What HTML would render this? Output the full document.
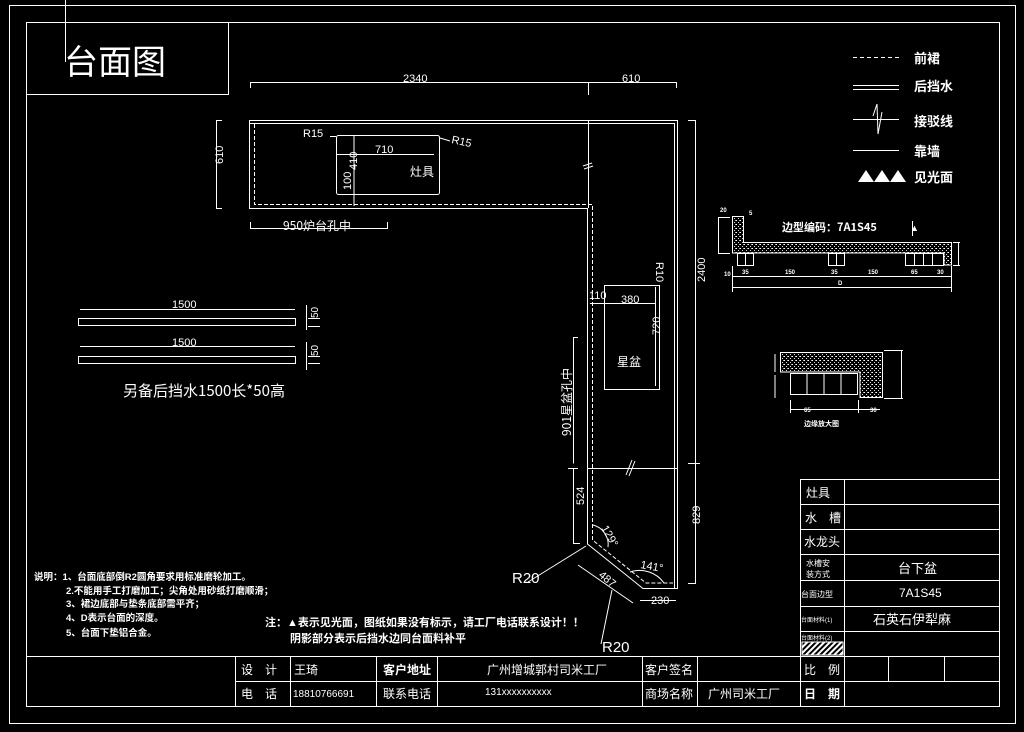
<!DOCTYPE html>
<html><head><meta charset="utf-8"><style>
html,body{margin:0;padding:0;background:#000;}
svg{display:block;}
text{fill:#fff;font-family:"Liberation Sans","Noto Sans CJK SC",sans-serif;}
.c{font-family:"Noto Sans CJK SC","WenQuanYi Zen Hei",sans-serif;}
.b{font-weight:bold;}
</style></head><body>
<svg width="1024" height="732" viewBox="0 0 1024 732" xmlns="http://www.w3.org/2000/svg">
<defs>
<pattern id="dots" width="4" height="4" patternUnits="userSpaceOnUse">
<rect width="4" height="4" fill="#000"/><rect x="0" y="0" width="1" height="1" fill="#fff"/><rect x="2" y="2" width="1" height="1" fill="#ddd"/><rect x="3" y="0" width="1" height="1" fill="#aaa"/>
</pattern>
<pattern id="hatch" width="4" height="4" patternUnits="userSpaceOnUse" patternTransform="rotate(45)">
<rect width="4" height="4" fill="#000"/><rect width="2" height="4" fill="#fff"/>
</pattern>
</defs>
<rect width="1024" height="732" fill="#000"/>
<g fill="none" stroke="#fff" stroke-width="1">
<rect x="9.5" y="5.5" width="1006" height="718"/>
<rect x="26.5" y="22.5" width="973" height="684"/>
<line x1="65.5" y1="0" x2="65.5" y2="62"/>
<rect x="26.5" y="22.5" width="202" height="72"/>
<line x1="26" y1="656.5" x2="999" y2="656.5"/>
<line x1="235" y1="681.5" x2="999" y2="681.5"/>
<line x1="235.5" y1="656" x2="235.5" y2="706"/>
<line x1="290.5" y1="656" x2="290.5" y2="706"/>
<line x1="376.5" y1="656" x2="376.5" y2="706"/>
<line x1="437.5" y1="656" x2="437.5" y2="706"/>
<line x1="642.5" y1="656" x2="642.5" y2="706"/>
<line x1="697.5" y1="656" x2="697.5" y2="706"/>
<line x1="800.5" y1="479" x2="800.5" y2="706"/>
<line x1="844.5" y1="479" x2="844.5" y2="706"/>
<line x1="888.5" y1="656" x2="888.5" y2="681"/>
<line x1="944.5" y1="656" x2="944.5" y2="681"/>
<line x1="800" y1="479.5" x2="999" y2="479.5"/>
<line x1="800" y1="504.5" x2="999" y2="504.5"/>
<line x1="800" y1="529.5" x2="999" y2="529.5"/>
<line x1="800" y1="554.5" x2="999" y2="554.5"/>
<line x1="800" y1="580.5" x2="999" y2="580.5"/>
<line x1="800" y1="606.5" x2="999" y2="606.5"/>
<line x1="800" y1="631.5" x2="999" y2="631.5"/>
</g>
<rect x="802" y="642" width="41" height="13" fill="url(#hatch)" stroke="#fff"/>

<g fill="none" stroke="#fff" stroke-width="1">
<path d="M249.5 120.5 H677.5 V588.5 H643 L587.5 544 V208.5 H249.5 Z"/>
<path d="M588.5 120 V208"/>
<path d="M250 123.5 H674.5 V588"/>
<path d="M254.5 124 V204.5 H592.5 V540 L646 583 H673" stroke-dasharray="4,2"/>
<line x1="588" y1="468.5" x2="677" y2="468.5"/>
<path d="M583 166 L592 163 M584 169 L593 166"/>
<path d="M626 475 L632 460 M629 476 L635 461"/>
<rect x="336.5" y="135.5" width="103" height="59" rx="2"/>
<line x1="354" y1="135" x2="354" y2="206"/>
<line x1="336" y1="154.5" x2="434" y2="154.5"/>
<line x1="330" y1="136.5" x2="336" y2="136.5"/>
<line x1="440" y1="138" x2="450" y2="141"/>
<rect x="604.5" y="285.5" width="55" height="104"/>
<line x1="655.5" y1="287" x2="655.5" y2="386"/>
<line x1="590" y1="303.5" x2="656" y2="303.5"/>
<path d="M250.5 88 V82.5 H588 M589 82.5 H676.5 V88 M588.5 82 V95"/>
<path d="M222 120.5 H216.5 V208.5 H222"/>
<path d="M250.5 222 V228.5 H387.5 V222"/>
<path d="M688 120.5 H695.5 V583.5 H688 M688 463.5 H700"/>
<path d="M578 337.5 H573.5 V463.5 M568 468.5 H578 M573.5 468 V543.5 H580"/>
<path d="M640 600.5 H676"/>
<path d="M528 582 L586 546 M601 644 L612 590"/>
<path d="M578 565 L633 603"/>
<path d="M593 525 A20 20 0 0 1 608 547"/>
<path d="M630 572 A30 30 0 0 1 664 583"/>
<rect x="78.5" y="318.5" width="217" height="7"/>
<rect x="78.5" y="356.5" width="217" height="7"/>
<line x1="80" y1="309.5" x2="295" y2="309.5"/>
<line x1="80" y1="346.5" x2="295" y2="346.5"/>
<path d="M306.5 305 V330 M308 318.5 H320 M308 326.5 H320"/>
<path d="M306.5 342 V370 M308 356.5 H320 M308 363.5 H320"/>
<line x1="853" y1="57.5" x2="899" y2="57.5" stroke-dasharray="4,3"/>
<line x1="853" y1="85.5" x2="899" y2="85.5"/>
<line x1="853" y1="89.5" x2="899" y2="89.5"/>
<path d="M853 119.5 H899 M873 116 L877 104 L878 134 L882 112"/>
<line x1="853" y1="150.5" x2="899" y2="150.5"/>
</g>
<path d="M858 182 L866 170 L874 182 Z M874 182 L882 170 L890 182 Z M890 182 L898 170 L906 182 Z" fill="#fff"/>

<g stroke="#fff" stroke-width="1">
<path d="M732.5 216.5 H743.5 V242.5 H951.5 V265 H944 V253 H732.5 Z" fill="url(#dots)"/>
<g fill="none">
<rect x="737.5" y="253.5" width="16" height="12"/><line x1="745.5" y1="254" x2="745.5" y2="265"/>
<rect x="828.5" y="253.5" width="16" height="12"/><line x1="836.5" y1="254" x2="836.5" y2="265"/>
<rect x="905.5" y="253.5" width="38" height="12"/><line x1="914.5" y1="254" x2="914.5" y2="265"/><line x1="923.5" y1="254" x2="923.5" y2="265"/><line x1="932.5" y1="254" x2="932.5" y2="265"/>
<path d="M732 276.5 H951 M732.5 287.5 H951 M732.5 266 V292 M951.5 266 V292 M719 217.5 H730 M719 253.5 H730 M718.5 217 V254 M953 242.5 H960 M953 265.5 H960 M958.5 242 V266"/>
<line x1="912.5" y1="221" x2="912.5" y2="236"/>
</g>
</g>
<g stroke="#fff" stroke-width="1">
<path d="M780.5 352.5 H882.5 V397.5 H860 V372 H780.5 Z" fill="url(#dots)"/>
<g fill="none">
<rect x="790.5" y="373.5" width="67" height="21"/>
<line x1="807" y1="374" x2="807" y2="394"/><line x1="824" y1="374" x2="824" y2="394"/><line x1="841" y1="374" x2="841" y2="394"/>
<path d="M790.5 400 V413 M858.5 400 V413 M790 409.5 H880 M884 350.5 H903 M884 398.5 H903 M901.5 350 V399 M775 354 V372 M775 375 V398"/>
</g>
</g>

<text x="64" y="74" class="c" font-size="34">台面图</text>
<g font-size="11">
<text x="403" y="82">2340</text>
<text x="622" y="82">610</text>
<text x="213" y="174" transform="rotate(-90 213 164)">610</text>
<text x="303" y="137">R15</text>
<text x="451" y="143" transform="rotate(12 451 143)">R15</text>
<text x="375" y="153">710</text>
<text x="352" y="175" transform="rotate(-90 352 170)">410</text>
<text x="351" y="200" transform="rotate(-90 346 195)">100</text>
<text x="283" y="230" class="c" font-size="12">950炉台孔中</text>
<text x="656" y="262" transform="rotate(90 656 262)">R10</text>
<text x="589" y="299">110</text>
<text x="621" y="303">380</text>
<text x="650" y="345" transform="rotate(-90 650 335)">720</text>
<text x="698" y="305" transform="rotate(-90 690 290)">2400</text>
<text x="571" y="436" class="c" font-size="12" transform="rotate(-90 571 436)">901星盆孔中</text>
<text x="574" y="515" transform="rotate(-90 574 505)">524</text>
<text x="696" y="540" transform="rotate(-90 690 530)">829</text>
<text x="601" y="528" transform="rotate(60 601 528)">129°</text>
<text x="640" y="568" transform="rotate(10 640 568)">141°</text>
<text x="598" y="576" transform="rotate(40 598 576)">487</text>
<text x="651" y="604">230</text>
<text x="512" y="583" font-size="15">R20</text>
<text x="602" y="652" font-size="15">R20</text>
<text x="172" y="308">1500</text>
<text x="172" y="346">1500</text>
<text x="312" y="308" font-size="10" transform="rotate(-90 320 310)">50</text>
<text x="312" y="346" font-size="10" transform="rotate(-90 320 348)">50</text>
</g>
<text x="410" y="176" class="c" font-size="12">灶具</text>
<text x="617" y="366" class="c" font-size="12">星盆</text>
<text x="123" y="396" class="c" font-size="15">另备后挡水1500长*50高</text>
<g class="c b" font-size="13">
<text x="914" y="63">前裙</text>
<text x="914" y="91">后挡水</text>
<text x="914" y="126">接驳线</text>
<text x="914" y="156">靠墙</text>
<text x="914" y="182">见光面</text>
</g>
<text x="782" y="231" class="c b" font-size="11">边型编码：7A1S45</text>
<text x="910" y="231" font-size="9">▲</text>
<text x="804" y="426" class="c b" font-size="7">边缘放大图</text>
<g font-size="6" class="b">
<text x="720" y="212">20</text><text x="749" y="215">5</text>
<text x="724" y="276">10</text><text x="742" y="274">35</text><text x="785" y="274">150</text><text x="831" y="274">35</text><text x="868" y="274">150</text><text x="911" y="274">65</text><text x="937" y="274">30</text>
<text x="838" y="285">D</text><text x="804" y="412">65</text><text x="870" y="412">30</text>
</g>
<g class="c b" font-size="9.5">
<text x="34" y="580">说明：1、台面底部倒R2圆角要求用标准磨轮加工。</text>
<text x="66" y="594">2.不能用手工打磨加工；尖角处用砂纸打磨顺滑；</text>
<text x="66" y="607">3、裙边底部与垫条底部需平齐；</text>
<text x="66" y="621">4、D表示台面的深度。</text>
<text x="66" y="636">5、台面下垫铝合金。</text>
</g>
<g class="c b" font-size="11">
<text x="265" y="626">注：▲表示见光面，图纸如果没有标示，请工厂电话联系设计！！</text>
<text x="290" y="642">阴影部分表示后挡水边同台面料补平</text>
</g>
<g class="c" font-size="12">
<text x="806" y="497">灶具</text>
<text x="805" y="522">水　槽</text>
<text x="804" y="546">水龙头</text>
<text x="898" y="573" font-size="13">台下盆</text>
<text x="899" y="597" font-family="Liberation Serif" font-size="12">7A1S45</text>
<text x="873" y="624" font-size="13">石英石伊犁麻</text>
<text x="241" y="674">设　计</text>
<text x="294" y="674">王琦</text>
<text x="383" y="674" class="b">客户地址</text>
<text x="487" y="674">广州增城郭村司米工厂</text>
<text x="645" y="674">客户签名</text>
<text x="804" y="674">比　例</text>
<text x="241" y="698">电　话</text>
<text x="383" y="698">联系电话</text>
<text x="645" y="698">商场名称</text>
<text x="708" y="698">广州司米工厂</text>
<text x="804" y="698" class="b">日　期</text>
</g>
<text x="293" y="697" font-size="10" font-family="Liberation Serif">18810766691</text>
<text x="485" y="695" font-size="10" font-family="Liberation Serif">131xxxxxxxxxx</text>
<g class="c" font-size="8">
<text x="806" y="566">水槽安</text>
<text x="806" y="577">装方式</text>
<text x="801" y="597">台面边型</text>
<text x="801" y="622" font-size="6">台面材料(1)</text>
<text x="801" y="640" font-size="6">台面材料(2)</text>
</g>
</svg>
</body></html>
